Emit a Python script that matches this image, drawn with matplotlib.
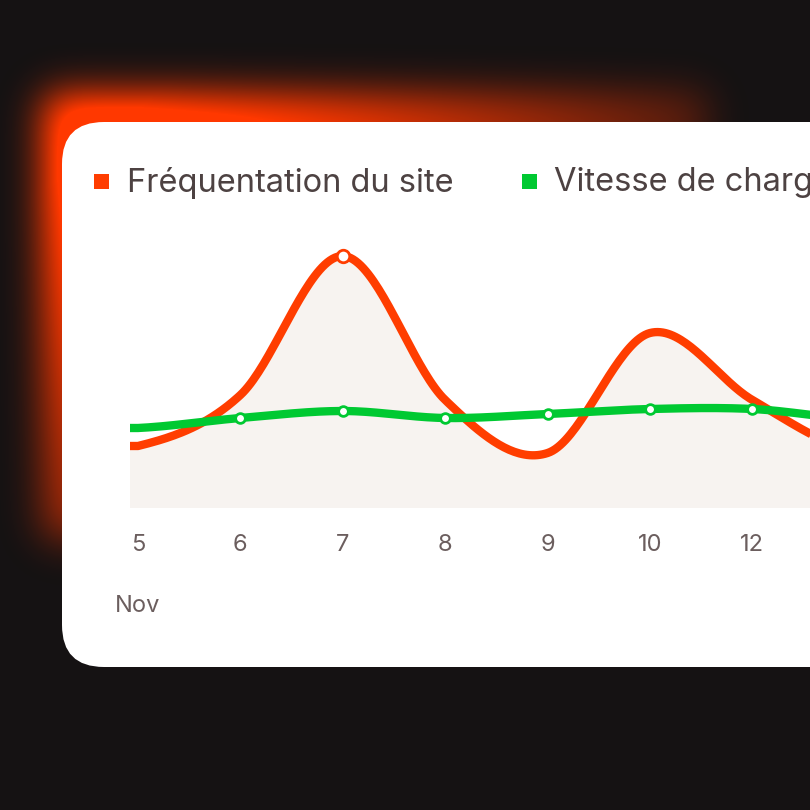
import numpy as np
import matplotlib
matplotlib.use("Agg")
from matplotlib import pyplot as plt
from matplotlib.patches import FancyBboxPatch, Rectangle

days = ["5", "6", "7", "8", "9", "10", "12", ""]
visits = [61, 112, 251, 107, 54, 174, 107, 55]
speed = [79, 89, 96, 89, 93, 98, 98, 88]
month = "Nov"

ORANGE = "#ff3d00"
GREEN = "#00c932"
TEXT = "#4d4242"
BG = "#151213"


def smooth(y, n=40):
    # catmull-rom through the points, for display only
    y = np.asarray(y, float)
    p = np.concatenate([[y[0]], y, [y[-1]]])
    xs, ys = [], []
    for i in range(len(y) - 1):
        t = np.linspace(0, 1, n, endpoint=False)
        p0, p1, p2, p3 = p[i], p[i + 1], p[i + 2], p[i + 3]
        v = 0.5 * ((2 * p1) + (-p0 + p2) * t + (2 * p0 - 5 * p1 + 4 * p2 - p3) * t**2
                   + (-p0 + 3 * p1 - 3 * p2 + p3) * t**3)
        xs.append(i + t)
        ys.append(v)
    xs.append([len(y) - 1])
    ys.append([y[-1]])
    return np.concatenate(xs), np.concatenate(ys)


fig = plt.figure(figsize=(8.1, 8.1), dpi=100, facecolor=BG)
bg = fig.add_axes([0, 0, 1, 1])
bg.set_xlim(0, 810)
bg.set_ylim(810, 0)
bg.axis("off")

# orange glow behind the card
H = W = 810
yy, xx = np.mgrid[0:H, 0:W]
rect = ((xx > 45) & (xx < 710) & (yy > 95) & (yy < 540)).astype(float)
k = np.exp(-np.linspace(-3, 3, 121) ** 2 / 2)
k /= k.sum()
blur = np.apply_along_axis(lambda r: np.convolve(r, k, mode="same"), 1, rect)
blur = np.apply_along_axis(lambda c: np.convolve(c, k, mode="same"), 0, blur)
fade = np.clip(1.15 - (xx - 40) / 720 - (yy - 100) / 620, 0, 1)
glow = np.zeros((H, W, 4))
glow[..., 0] = 1.0
glow[..., 1] = 0.22
glow[..., 2] = 0.0
glow[..., 3] = np.clip(blur * fade * 1.4, 0, 1)
bg.imshow(glow, extent=(0, 810, 810, 0), zorder=0)

card = FancyBboxPatch((62, 122), 900, 545, boxstyle="round,pad=0,rounding_size=42",
                      facecolor="white", edgecolor="none", zorder=1)
bg.add_patch(card)

# legend
bg.add_patch(Rectangle((94, 174), 15, 15, facecolor=ORANGE, zorder=2))
bg.text(127, 183, "Fréquentation du site", fontsize=23.5, color=TEXT, va="center",
        family="Inter", zorder=2)
bg.add_patch(Rectangle((522, 174), 15, 15, facecolor=GREEN, zorder=2))
bg.text(554, 183, "Vitesse de chargement", fontsize=23.5, color=TEXT, va="center",
        family="Inter", zorder=2, clip_on=True)

# chart area
x0, x1, step = 130, 810, 102.4
ax = fig.add_axes([x0 / 810, (810 - 507) / 810, (x1 - x0) / 810, 277 / 810])
left = (x0 - 138) / step
ax.set_xlim(left, (x1 - 138) / step)
ax.set_ylim(0, 277)
ax.axis("off")
ax.patch.set_alpha(0)

xo, yo = smooth(visits)
xg, yg = smooth(speed)
xo = np.concatenate([[left], xo])
yo = np.concatenate([[yo[0]], yo])
xg = np.concatenate([[left], xg])
yg = np.concatenate([[yg[0]], yg])
ax.fill_between(xo, 0, yo, color="#f7f3f0", zorder=1)
ax.plot(xo, yo, color=ORANGE, lw=6, solid_capstyle="butt", zorder=3)
ax.plot(xg, yg, color=GREEN, lw=6, solid_capstyle="butt", zorder=4)
ax.plot(range(1, 7), speed[1:7], "o", ms=7, mfc="white", mec=GREEN, mew=2, zorder=5)
ax.plot([2], [visits[2]], "o", ms=9, mfc="white", mec=ORANGE, mew=2, zorder=5, clip_on=False)

for i, d in enumerate(days):
    bg.text(138 + step * i, 545, d, fontsize=17, color="#6b5e5e", ha="center",
            va="center", family="Inter", zorder=2)
bg.text(138, 606, month, fontsize=17, color="#6b5e5e", ha="center", va="center",
        family="Inter", zorder=2)

fig.savefig("out.png", dpi=100, facecolor=BG)
